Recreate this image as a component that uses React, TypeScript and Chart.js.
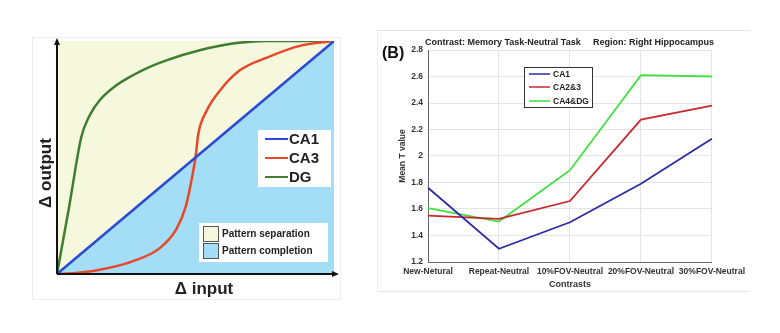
import React, { useEffect, useRef } from "react";
import { Chart, registerables } from "chart.js";

Chart.register(...registerables);

// ---------- Panel A data (schematic curves) ----------
const ca1X = [0, 1];
const ca1Y = [0, 1];
const ca3X = [0, 0.06, 0.15, 0.27, 0.37, 0.43, 0.465, 0.49, 0.5, 0.51, 0.54, 0.59, 0.66, 0.76, 0.88, 1];
const ca3Y = [0, 0.003, 0.017, 0.053, 0.11, 0.19, 0.29, 0.43, 0.5, 0.6, 0.7, 0.79, 0.874, 0.93, 0.98, 1];
const dgX = [0, 0.044, 0.088, 0.118, 0.154, 0.214, 0.274, 0.335, 0.395, 0.515, 0.635, 0.756, 1];
const dgY = [0, 0.29, 0.589, 0.681, 0.746, 0.81, 0.853, 0.889, 0.917, 0.96, 0.989, 1, 1];
const panelALabels = ["CA1", "CA3", "DG"];
const panelAColors = ["#2a4bd6", "#e8472a", "#3f7d31"];
const regionLabels = ["Pattern separation", "Pattern completion"];
const regionColors = ["#f6f8de", "#a3ddf6"];

// ---------- Panel B data ----------
const contrasts = ["New-Netural", "Repeat-Neutral", "10%FOV-Neutral", "20%FOV-Neutral", "30%FOV-Neutral"];
const ca1Values = [1.76, 1.3, 1.5, 1.79, 2.13];
const ca23Values = [1.55, 1.525, 1.66, 2.275, 2.38];
const ca4dgValues = [1.607, 1.505, 1.893, 2.61, 2.6];
const panelBLabels = ["CA1", "CA2&3", "CA4&DG"];
const panelBColors = ["#2c2ca6", "#c9272f", "#3fe03f"];
const yTicks = [1.2, 1.4, 1.6, 1.8, 2, 2.2, 2.4, 2.6, 2.8];

const SANS = "'Liberation Sans', Arial, sans-serif";

function zip(xs: number[], ys: number[]) {
  return xs.map((x, i) => ({ x, y: ys[i] }));
}

const panelADecor = {
  id: "panelADecor",
  beforeDraw(chart: any) {
    const { ctx, chartArea: a } = chart;
    ctx.save();
    ctx.fillStyle = regionColors[0];
    ctx.fillRect(a.left, a.top, a.right - a.left, a.bottom - a.top);
    ctx.restore();
  },
  afterDraw(chart: any) {
    const { ctx, chartArea: a } = chart;
    ctx.save();
    // axes with arrows
    ctx.strokeStyle = "#111";
    ctx.fillStyle = "#111";
    ctx.lineWidth = 2;
    ctx.beginPath();
    ctx.moveTo(a.left, a.bottom);
    ctx.lineTo(a.left, a.top - 1);
    ctx.moveTo(a.left, a.bottom);
    ctx.lineTo(a.right + 2, a.bottom);
    ctx.stroke();
    ctx.beginPath();
    ctx.moveTo(a.left, a.top - 3);
    ctx.lineTo(a.left - 3, a.top + 4);
    ctx.lineTo(a.left + 3, a.top + 4);
    ctx.closePath();
    ctx.fill();
    ctx.beginPath();
    ctx.moveTo(a.right + 5, a.bottom);
    ctx.lineTo(a.right - 2, a.bottom - 3);
    ctx.lineTo(a.right - 2, a.bottom + 3);
    ctx.closePath();
    ctx.fill();

    // axis labels
    ctx.fillStyle = "#222";
    ctx.font = `bold 17px ${SANS}`;
    ctx.textAlign = "center";
    ctx.textBaseline = "middle";
    ctx.fillText("\u0394 input", 172, 252);
    ctx.save();
    ctx.translate(14, 136);
    ctx.rotate(-Math.PI / 2);
    ctx.fillText("\u0394 output", 0, 0);
    ctx.restore();

    // line legend
    ctx.fillStyle = "#ffffff";
    ctx.fillRect(226, 93, 73, 57);
    const rows = [102, 121, 140];
    ctx.font = `bold 15px ${SANS}`;
    ctx.textAlign = "left";
    chart.data.datasets.forEach((ds: any, i: number) => {
      ctx.strokeStyle = ds.borderColor;
      ctx.lineWidth = 2;
      ctx.beginPath();
      ctx.moveTo(233, rows[i]);
      ctx.lineTo(256, rows[i]);
      ctx.stroke();
      ctx.fillStyle = "#222";
      ctx.fillText(ds.label, 257, rows[i] + 1);
    });

    // region legend
    ctx.fillStyle = "#ffffff";
    ctx.fillRect(167, 186, 129, 39);
    const rrows = [189, 206];
    ctx.font = `bold 10px ${SANS}`;
    regionLabels.forEach((lab, i) => {
      ctx.fillStyle = regionColors[i];
      ctx.fillRect(171, rrows[i], 15, 15);
      ctx.strokeStyle = "#555";
      ctx.lineWidth = 1;
      ctx.strokeRect(171.5, rrows[i] + 0.5, 15, 15);
      ctx.fillStyle = "#222";
      ctx.fillText(lab, 190, rrows[i] + 8);
    });
    ctx.restore();
  },
};

const panelBDecor = {
  id: "panelBDecor",
  afterDraw(chart: any) {
    const { ctx } = chart;
    ctx.save();
    ctx.fillStyle = "#222";
    ctx.textBaseline = "middle";
    ctx.textAlign = "left";
    ctx.font = `bold 9px ${SANS}`;
    ctx.fillText("Contrast: Memory Task-Neutral Task", 48, 13);
    ctx.fillText("Region: Right Hippocampus", 216, 13);
    ctx.font = `bold 16px ${SANS}`;
    ctx.fillStyle = "#111";
    ctx.fillText("(B)", 5, 24);

    ctx.fillStyle = "#333";
    ctx.font = `bold 9px ${SANS}`;
    ctx.textAlign = "center";
    ctx.fillText("Contrasts", 193, 255);
    ctx.save();
    ctx.translate(26, 126);
    ctx.rotate(-Math.PI / 2);
    ctx.font = `bold 8.5px ${SANS}`;
    ctx.fillText("Mean T value", 0, 0);
    ctx.restore();

    // legend
    ctx.fillStyle = "#fff";
    ctx.fillRect(147, 37, 68, 40);
    ctx.strokeStyle = "#333";
    ctx.lineWidth = 1;
    ctx.strokeRect(147.5, 37.5, 68, 40);
    const rows = [44, 57, 71];
    ctx.textAlign = "left";
    ctx.font = `bold 8.5px ${SANS}`;
    chart.data.datasets.forEach((ds: any, i: number) => {
      ctx.strokeStyle = ds.borderColor;
      ctx.lineWidth = 1.5;
      ctx.beginPath();
      ctx.moveTo(152, rows[i]);
      ctx.lineTo(173, rows[i]);
      ctx.stroke();
      ctx.fillStyle = "#222";
      ctx.fillText(ds.label, 176, rows[i] + 0.5);
    });
    ctx.restore();
  },
};

function ChartCanvas({ config, style }: { config: () => any; style: React.CSSProperties }) {
  const ref = useRef<HTMLCanvasElement | null>(null);
  useEffect(() => {
    if (!ref.current) return;
    const chart = new Chart(ref.current, config());
    return () => chart.destroy();
  }, []);
  return (
    <div style={{ position: "absolute", ...style }}>
      <canvas ref={ref} />
    </div>
  );
}

function panelAConfig() {
  const series = [zip(ca1X, ca1Y), zip(ca3X, ca3Y), zip(dgX, dgY)];
  return {
    type: "line",
    data: {
      datasets: series.map((d, i) => ({
        label: panelALabels[i],
        data: d,
        borderColor: panelAColors[i],
        borderWidth: 2.5,
        pointRadius: 0,
        cubicInterpolationMode: "monotone",
        fill: i === 0 ? "start" : false,
        backgroundColor: i === 0 ? regionColors[1] : "transparent",
      })),
    },
    options: {
      animation: false,
      responsive: true,
      maintainAspectRatio: false,
      layout: { padding: { left: 25, right: 6, top: 4, bottom: 26 } },
      plugins: {
        legend: { display: false },
        tooltip: { enabled: false },
        filler: { drawTime: "beforeDatasetsDraw" },
      },
      scales: {
        x: { type: "linear", min: 0, max: 1, display: false },
        y: { type: "linear", min: 0, max: 1, display: false },
      },
    },
    plugins: [panelADecor],
  };
}

function panelBConfig() {
  const values = [ca1Values, ca23Values, ca4dgValues];
  return {
    type: "line",
    data: {
      labels: contrasts,
      datasets: values.map((v, i) => ({
        label: panelBLabels[i],
        data: v,
        borderColor: panelBColors[i],
        borderWidth: 1.8,
        pointRadius: 0,
        tension: 0,
        fill: false,
      })),
    },
    options: {
      animation: false,
      responsive: true,
      maintainAspectRatio: false,
      layout: { padding: { left: 0, right: 37, top: 20, bottom: 0 } },
      plugins: { legend: { display: false }, tooltip: { enabled: false } },
      scales: {
        x: {
          type: "category",
          offset: false,
          grid: { color: "#e4e4e4", drawTicks: false },
          border: { color: "#666" },
          ticks: {
            autoSkip: false,
            maxRotation: 0,
            padding: 5,
            color: "#333",
            font: { family: SANS, size: 8.5, weight: "bold" },
          },
          afterFit: (s: any) => {
            s.height = 29;
          },
        },
        y: {
          min: 1.2,
          max: 2.8,
          grid: { color: "#e4e4e4", drawTicks: false },
          border: { color: "#666" },
          afterBuildTicks: (s: any) => {
            s.ticks = yTicks.map((v) => ({ value: v }));
          },
          ticks: {
            padding: 5,
            color: "#333",
            font: { family: SANS, size: 8.5, weight: "bold" },
            callback: (v: number) => String(v),
          },
          afterFit: (s: any) => {
            s.width = 51;
          },
        },
      },
    },
    plugins: [panelBDecor],
  };
}

export default function App() {
  return (
    <div style={{ position: "absolute", left: 0, top: 0, width: 780, height: 333, background: "#fff" }}>
      <div
        style={{
          position: "absolute",
          left: 32,
          top: 37,
          width: 307,
          height: 261,
          border: "1px solid #ededed",
        }}
      />
      <div
        style={{
          position: "absolute",
          left: 377,
          top: 30,
          width: 372,
          height: 260,
          borderTop: "1px solid #e3e3e3",
          borderBottom: "1px solid #e3e3e3",
          borderLeft: "1px solid #f0f0f0",
        }}
      />
      <ChartCanvas config={panelAConfig} style={{ left: 32, top: 37, width: 308, height: 263 }} />
      <ChartCanvas config={panelBConfig} style={{ left: 377, top: 30, width: 373, height: 261 }} />
    </div>
  );
}
